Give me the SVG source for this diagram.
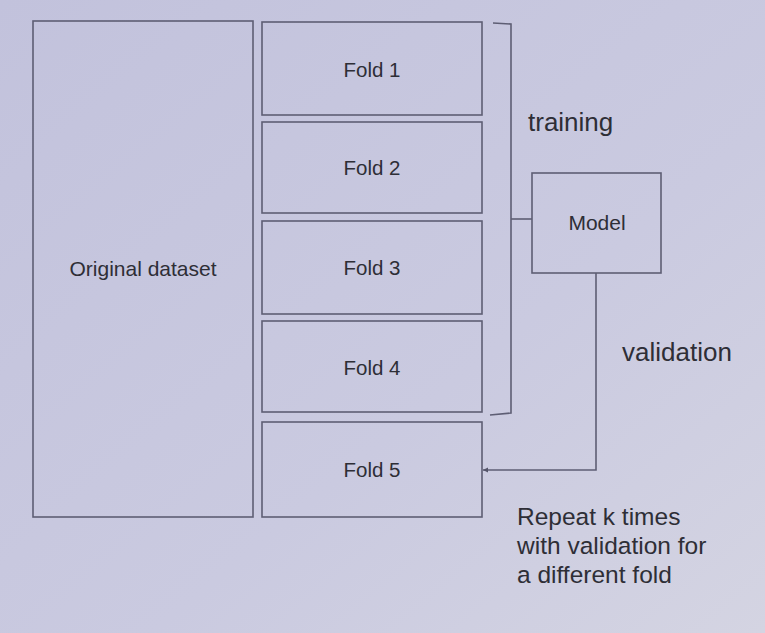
<svg xmlns="http://www.w3.org/2000/svg" width="765" height="633" viewBox="0 0 765 633">
<defs>
<linearGradient id="bg" x1="0" y1="0" x2="1" y2="1">
<stop offset="0" stop-color="#c2c2dc"/>
<stop offset="0.6" stop-color="#cacae0"/>
<stop offset="1" stop-color="#d4d4e2"/>
</linearGradient>
<marker id="arr" markerWidth="6" markerHeight="6" refX="5" refY="3" orient="auto" markerUnits="userSpaceOnUse">
<path d="M0,0.5 L5,3 L0,5.5 Z" fill="#55556a"/>
</marker>
<style>
.box{fill:none;stroke:#5e5e74;stroke-width:1.6}
.lbl{font-family:"Liberation Sans",Arial,sans-serif;font-size:20.5px;fill:#2e2e36;text-anchor:middle}
.big{font-family:"Liberation Sans",Arial,sans-serif;font-size:26px;fill:#2e2e36}
.rep{font-family:"Liberation Sans",Arial,sans-serif;font-size:24.5px;fill:#2e2e36}
.conn{fill:none;stroke:#5e5e74;stroke-width:1.6}
</style>
</defs>
<rect x="0" y="0" width="765" height="633" fill="url(#bg)"/>
<g id="original"><rect class="box" x="33" y="21" width="220" height="496"/><text class="lbl" x="143" y="276" style="font-size:21px">Original dataset</text></g>
<g id="fold1"><rect class="box" x="262" y="22" width="220" height="93"/><text class="lbl" x="372" y="77">Fold 1</text></g>
<g id="fold2"><rect class="box" x="262" y="122" width="220" height="91"/><text class="lbl" x="372" y="175">Fold 2</text></g>
<g id="fold3"><rect class="box" x="262" y="221" width="220" height="93"/><text class="lbl" x="372" y="275">Fold 3</text></g>
<g id="fold4"><rect class="box" x="262" y="321" width="220" height="91"/><text class="lbl" x="372" y="375">Fold 4</text></g>
<g id="fold5"><rect class="box" x="262" y="422" width="220" height="95"/><text class="lbl" x="372" y="477">Fold 5</text></g>
<g id="model"><rect class="box" x="532" y="173" width="129" height="100"/><text class="lbl" x="597" y="230" style="font-size:21px">Model</text></g>
<g id="connectors">
<path class="conn" d="M493,23 L511,24 L511,413 L490,415"/>
<path class="conn" d="M511,219 L532,219"/>
<path class="conn" d="M596,273 L596,470 L483,470" marker-end="url(#arr)"/>
</g>
<g id="labels">
<text class="big" x="528" y="131">training</text>
<text class="big" x="622" y="361">validation</text>
<text class="rep" x="517" y="525">Repeat k times</text>
<text class="rep" x="517" y="554">with validation for</text>
<text class="rep" x="517" y="583">a different fold</text>
</g>
</svg>
